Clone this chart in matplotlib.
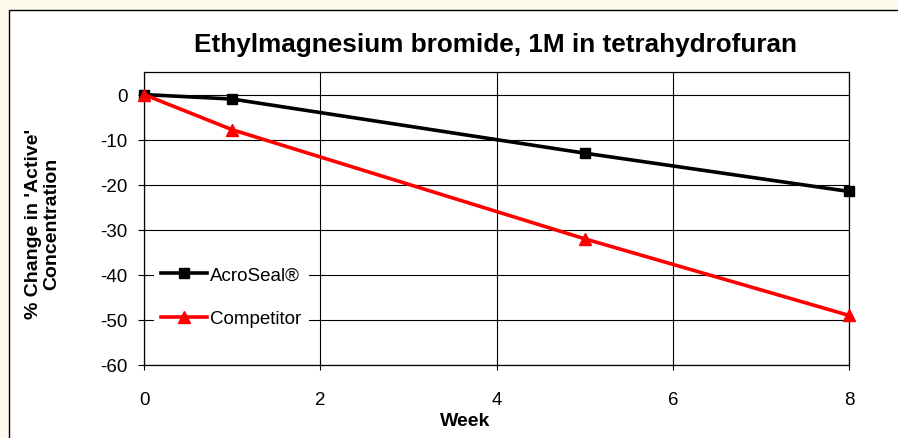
import matplotlib
matplotlib.use('Agg')
import matplotlib.pyplot as plt
from matplotlib.patches import Rectangle

# data
weeks_acro = [0, 1, 5, 8]
acroseal = [0, -1.0, -13.0, -21.5]
weeks_comp = [0, 1, 5, 8]
competitor = [0, -7.8, -32.0, -49.0]

x_ticks = [0, 2, 4, 6, 8]
y_ticks = [0, -10, -20, -30, -40, -50, -60]

plt.rcParams['font.family'] = ['Liberation Sans', 'DejaVu Sans']
plt.rcParams['axes.unicode_minus'] = False

W, H = 898, 439
fig = plt.figure(figsize=(W/100, H/100), dpi=100)
fig.patch.set_facecolor('#fdf9ec')
# white chart area with a black border
fig.patches.append(Rectangle((9/W, -0.05), 1.1, 1 - 11/H + 0.05, transform=fig.transFigure,
                             facecolor='white', edgecolor='black', linewidth=1.0, zorder=-10))

ax = fig.add_axes([144/W, 1 - 366/H, (849-144)/W, (366-73)/H])
ax.set_zorder(2)
ax.set_facecolor('white')

ax.plot(weeks_acro, acroseal, color='black', lw=2.6, marker='s', ms=6.5, label='AcroSeal®',
        zorder=3, clip_on=False)
ax.plot(weeks_comp, competitor, color='#ff0000', lw=2.6, marker='^', ms=9, label='Competitor',
        zorder=3, clip_on=False)

ax.set_xlim(0, 8)
ax.set_ylim(-60, 5)
ax.set_xticks(x_ticks)
ax.set_yticks(y_ticks)
ax.grid(True, color='black', lw=0.8)
ax.set_axisbelow(True)
for s in ax.spines.values():
    s.set_linewidth(0.9)
ax.tick_params(axis='y', direction='out', length=4.3, width=0.8, labelsize=13.5, pad=7.5)
ax.tick_params(axis='x', direction='inout', length=7, width=0.8, labelsize=13.5, pad=15)

ax.set_xlabel('Week', fontsize=14, fontweight='bold')
ax.xaxis.set_label_coords((465-144)/705, (366-413)/293)
ax.set_ylabel("% Change in 'Active'\nConcentration", fontsize=14, fontweight='bold', linespacing=1.1)
ax.yaxis.set_label_coords((60-144)/705, 0.486)
fig.text(495/W, 1 - 45/H, 'Ethylmagnesium bromide, 1M in tetrahydrofuran',
         ha='center', va='center', fontsize=18.8, fontweight='bold')

leg = ax.legend(loc='center left', bbox_to_anchor=(0.0135, (366-298)/293), frameon=True, fontsize=13.5,
                handlelength=2.45, handletextpad=0.16, labelspacing=1.42, borderpad=0.4,
                borderaxespad=0)
leg.get_frame().set_facecolor('white')
leg.get_frame().set_edgecolor('none')
leg.get_frame().set_alpha(1)
leg.get_frame().set_boxstyle('square', pad=0)

fig.savefig('out.png', dpi=100, facecolor=fig.get_facecolor())
